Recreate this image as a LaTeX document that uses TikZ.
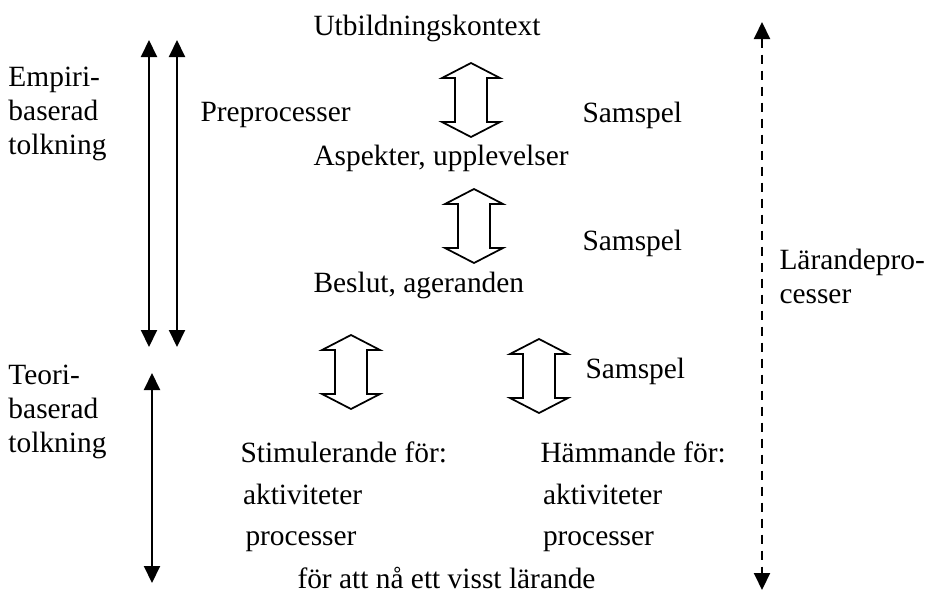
\documentclass[tikz,border=0pt]{standalone}
\usepackage{fontspec}
\setmainfont{Liberation Serif}
\usetikzlibrary{arrows.meta}

\begin{document}
\begin{tikzpicture}[x=0.4pt,y=-0.4pt,
  every node/.style={inner sep=0pt,font=\fontsize{11.76}{13.6}\selectfont},
  txt/.style={anchor=west,align=left},
  pil/.style={line width=0.8pt,{Triangle[width=6.4pt,length=6.8pt]}-{Triangle[width=6.4pt,length=6.8pt]}},
  streckpil/.style={pil,dash pattern=on 3.8pt off 2.6pt},
  samspel/.pic={\draw[line width=0.7pt,line join=miter]
    (0,-37) -- (29,-22) -- (16,-22) -- (16,22) -- (29,22) -- (0,37)
    -- (-29,22) -- (-16,22) -- (-16,-22) -- (-29,-22) -- cycle;}]
\useasboundingbox (0,0) rectangle (932,593);
% texter
\node[txt] (kontext) at (313,28) {Utbildningskontext};
\node[txt] (pre) at (200,115) {Preprocesser};
\node[txt] (samspel1) at (582,115) {Samspel};
\node[txt] (aspekter) at (313,158) {Aspekter, upplevelser};
\node[txt] (samspel2) at (582,243) {Samspel};
\node[txt] (beslut) at (313,285) {Beslut, ageranden};
\node[txt] (lar) at (779,276) {Lärandepro-\\cesser};
\node[txt] (empiri) at (8,114) {Empiri-\\baserad\\tolkning};
\node[txt] (teori) at (8,412) {Teori-\\baserad\\tolkning};
\node[txt] (samspel3) at (585,371) {Samspel};
\node[txt,font=\fontsize{11.76}{16.6}\selectfont] (stim) at (240,497)
  {Stimulerande för:\\\hspace{1pt}aktiviteter\\\hspace{2pt}processer};
\node[txt,font=\fontsize{11.76}{16.6}\selectfont] (hamm) at (540,497)
  {Hämmande för:\\\hspace{1pt}aktiviteter\\\hspace{1pt}processer};
\node[txt] (visst) at (297,578) {för att nå ett visst lärande};
% samspelspilar
\pic at (471,100) {samspel};
\pic at (474,226) {samspel};
\pic at (351,372) {samspel};
\pic at (539,376) {samspel};
% tolkningspilar
\coordinate (e1) at (149,40);
\coordinate (e2) at (149,347);
\coordinate (e3) at (177,40);
\coordinate (e4) at (177,347);
\coordinate (t1) at (152,373);
\coordinate (t2) at (152,583);
\draw[pil] (e1) -- (e2);
\draw[pil] (e3) -- (e4);
\draw[pil] (t1) -- (t2);
% lärandeprocesser
\coordinate (l1) at (762,22);
\coordinate (l2) at (762,590);
\draw[streckpil] (l1) -- (l2);
\end{tikzpicture}
\end{document}
